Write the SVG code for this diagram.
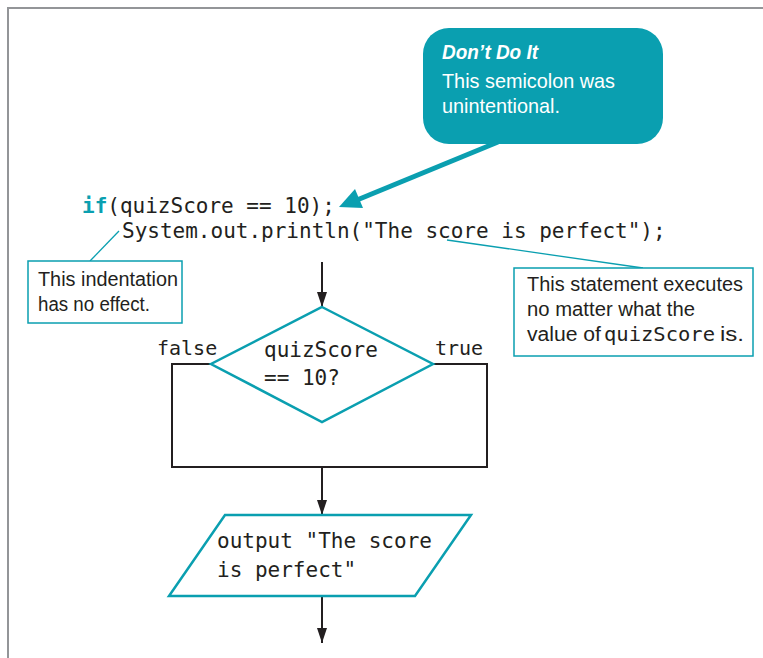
<svg xmlns="http://www.w3.org/2000/svg" width="763" height="658" viewBox="0 0 763 658">
<style>
.frame{fill:none;stroke:#939598;stroke-width:2}
.code{font-family:"DejaVu Sans Mono","Liberation Mono",monospace;font-size:21px;fill:#231f20}
.mono{font-family:"DejaVu Sans Mono","Liberation Mono",monospace;font-size:20px;fill:#231f20}
.kw{fill:#0a9fb0;font-weight:bold}
.note{font-family:"Liberation Sans Narrow","Liberation Sans",Arial,sans-serif;font-size:20px;fill:#231f20}
.callt{font-family:"Liberation Sans Narrow","Liberation Sans",Arial,sans-serif;font-size:21px;fill:#ffffff}
.tealbox{fill:#ffffff;stroke:#0a9fb0;stroke-width:1.5}
.shape{fill:#ffffff;stroke:#0a9fb0;stroke-width:2.5}
.flow{fill:none;stroke:#231f20;stroke-width:2}
.lead{fill:none;stroke:#0a9fb0;stroke-width:1.3}
</style>
<defs>
<marker id="arr" markerWidth="16" markerHeight="10" refX="15" refY="5" orient="auto" markerUnits="userSpaceOnUse" viewBox="0 0 16 10">
<path d="M0,0 L15,5 L0,10 Z" fill="#231f20"/>
</marker>
</defs>
<path class="frame" d="M8,658 L8,8 L763,8"/>

<g id="code">
<text class="code" x="82" y="213"><tspan class="kw">if</tspan>(quizScore == 10);</text>
<text class="code" x="122" y="238">System.out.println("The score is perfect");</text>
</g>

<g id="callout-dont">
<rect x="423" y="28" width="240" height="116" rx="26" ry="26" fill="#0a9fb0"/>
<line x1="498" y1="142" x2="357" y2="200" stroke="#0a9fb0" stroke-width="5"/>
<polygon points="339,207 355,189 363,208" fill="#0a9fb0"/>
<text class="callt" x="442" y="59" font-weight="bold" font-style="italic" textLength="96" lengthAdjust="spacingAndGlyphs">Don’t Do It</text>
<text class="callt" x="442" y="88" textLength="173" lengthAdjust="spacingAndGlyphs">This semicolon was</text>
<text class="callt" x="442" y="113" textLength="118" lengthAdjust="spacingAndGlyphs">unintentional.</text>
</g>

<g id="note-indent">
<line class="lead" x1="119" y1="231" x2="90" y2="261"/>
<rect class="tealbox" x="28" y="261" width="154" height="62"/>
<text class="note" x="38" y="286" textLength="140" lengthAdjust="spacingAndGlyphs">This indentation</text>
<text class="note" x="38" y="311" textLength="112" lengthAdjust="spacingAndGlyphs">has no effect.</text>
</g>

<g id="note-statement">
<line class="lead" x1="447" y1="240" x2="643" y2="268"/>
<rect class="tealbox" x="514" y="268" width="239" height="88"/>
<text class="note" x="527" y="291" textLength="216" lengthAdjust="spacingAndGlyphs">This statement executes</text>
<text class="note" x="527" y="316" textLength="168" lengthAdjust="spacingAndGlyphs">no matter what the</text>
<text class="note" x="527" y="341" textLength="74" lengthAdjust="spacingAndGlyphs">value of</text>
<text class="mono" x="604" y="341" textLength="111" lengthAdjust="spacingAndGlyphs">quizScore</text>
<text class="note" x="720" y="341" textLength="24" lengthAdjust="spacingAndGlyphs">is.</text>
</g>

<g id="connectors">
<line class="flow" x1="322" y1="262" x2="322" y2="307" marker-end="url(#arr)"/>
<polyline class="flow" points="211,364 172,364 172,467 487,467 487,364 433,364"/>
<line class="flow" x1="322" y1="467" x2="322" y2="515" marker-end="url(#arr)"/>
<line class="flow" x1="322" y1="596" x2="322" y2="643" marker-end="url(#arr)"/>
<text class="mono" x="157" y="355">false</text>
<text class="mono" x="435" y="355">true</text>
</g>

<g id="decision">
<polygon class="shape" points="322,307 433,364 322,422 211,364"/>
<text class="code" x="264" y="357">quizScore</text>
<text class="code" x="264" y="385">== 10?</text>
</g>

<g id="output">
<polygon class="shape" points="225,515 471,515 415,596 169,596"/>
<text class="code" x="217" y="548">output "The score</text>
<text class="code" x="217" y="577">is perfect"</text>
</g>
</svg>
